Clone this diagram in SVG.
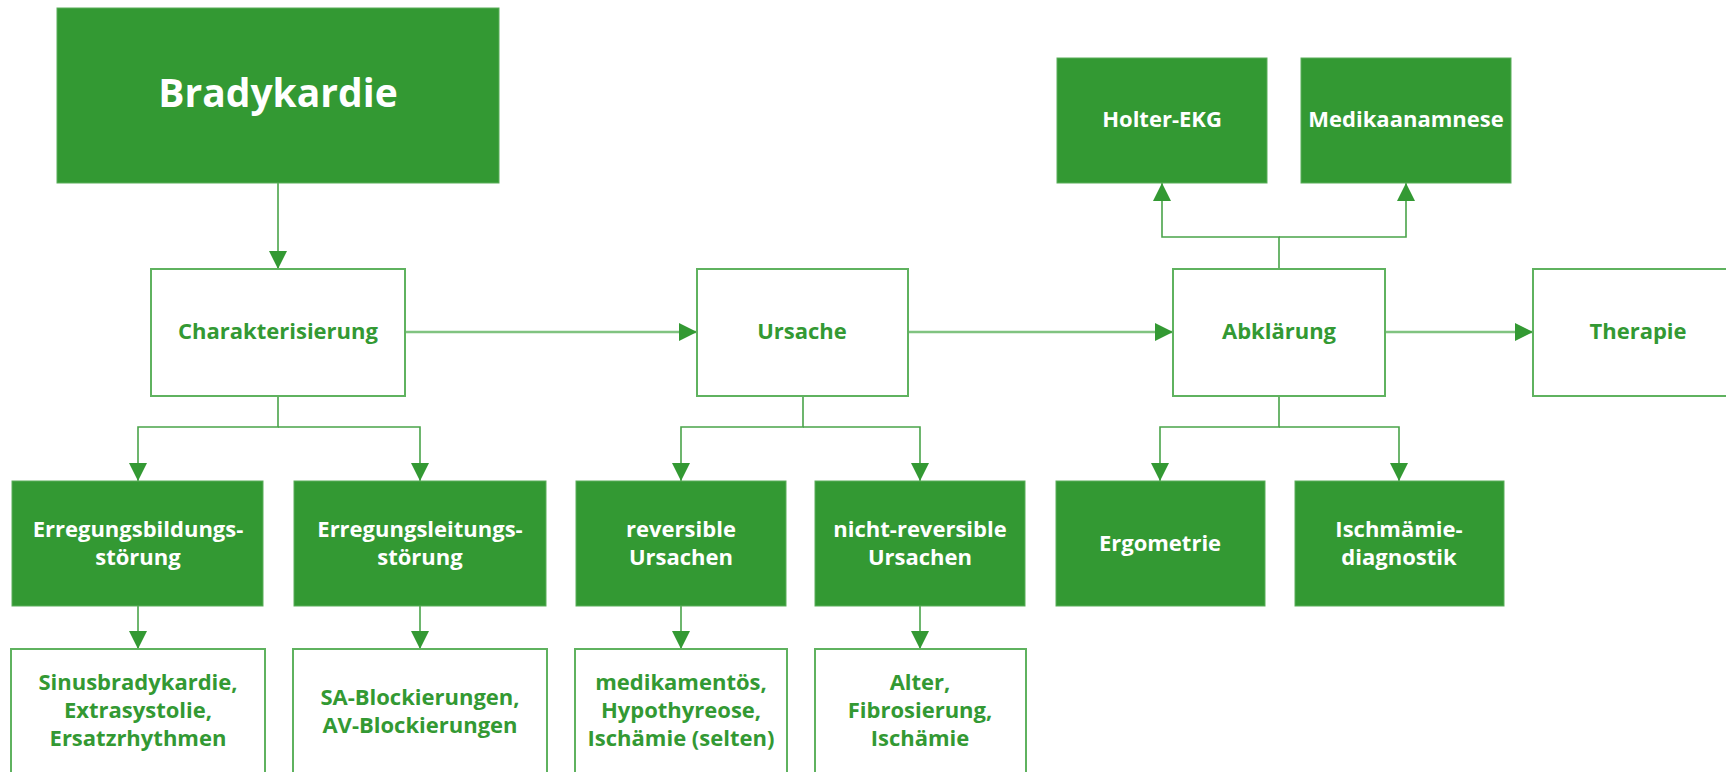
<svg xmlns="http://www.w3.org/2000/svg" width="1726" height="772" viewBox="0 0 1726 772">
  <style>
    .solid { fill: #339933; stroke: #5aae5a; stroke-width: 1; }
    .plain { fill: #ffffff; stroke: #5fb25f; stroke-width: 2; }
    text { font-family: "Open Sans", "Noto Sans", "Liberation Sans", sans-serif; font-weight: 700; text-anchor: middle; }
    .wt { fill: #ffffff; font-size: 22px; }
    .gt { fill: #339933; font-size: 22px; }
    .flow { fill: none; stroke: #80c380; stroke-width: 2.5; }
    .link { fill: none; stroke: #4aa44a; stroke-width: 1.6; }
  </style>
  <defs>
    <marker id="arrow" viewBox="0 0 18 18" refX="18" refY="9" markerWidth="18" markerHeight="18" markerUnits="userSpaceOnUse" orient="auto">
      <path d="M0,0 L18,9 L0,18 z" fill="#339933"/>
    </marker>
  </defs>

  <rect width="1726" height="772" fill="#ffffff"/>

  <!-- connectors -->
  <g id="connectors">
    <!-- main flow -->
    <path class="flow" d="M405,332 H697" marker-end="url(#arrow)"/>
    <path class="flow" d="M908,332 H1173" marker-end="url(#arrow)"/>
    <path class="flow" d="M1385,332 H1533" marker-end="url(#arrow)"/>
    <!-- Bradykardie to Charakterisierung -->
    <path class="link" d="M278,183 V269" marker-end="url(#arrow)"/>
    <!-- Charakterisierung branches -->
    <path class="link" d="M278,396 V427 H138 V481" marker-end="url(#arrow)"/>
    <path class="link" d="M278,427 H420 V481" marker-end="url(#arrow)"/>
    <!-- Ursache branches -->
    <path class="link" d="M803,396 V427 H681 V481" marker-end="url(#arrow)"/>
    <path class="link" d="M803,427 H920 V481" marker-end="url(#arrow)"/>
    <!-- Abklärung branches down -->
    <path class="link" d="M1279,396 V427 H1160 V481" marker-end="url(#arrow)"/>
    <path class="link" d="M1279,427 H1399 V481" marker-end="url(#arrow)"/>
    <!-- Abklärung branches up -->
    <path class="link" d="M1279,269 V237 H1162 V183" marker-end="url(#arrow)"/>
    <path class="link" d="M1279,237 H1406 V183" marker-end="url(#arrow)"/>
    <!-- detail arrows -->
    <path class="link" d="M138,606 V649" marker-end="url(#arrow)"/>
    <path class="link" d="M420,606 V649" marker-end="url(#arrow)"/>
    <path class="link" d="M681,606 V649" marker-end="url(#arrow)"/>
    <path class="link" d="M920,606 V649" marker-end="url(#arrow)"/>
  </g>

  <!-- top node -->
  <g id="bradykardie">
    <rect class="solid" x="57" y="8" width="442" height="175"/>
    <text x="278" y="107" fill="#ffffff" style="font-size:39px">Bradykardie</text>
  </g>

  <!-- main flow nodes -->
  <g id="charakterisierung">
    <rect class="plain" x="151" y="269" width="254" height="127"/>
    <text class="gt" x="278" y="339">Charakterisierung</text>
  </g>
  <g id="ursache">
    <rect class="plain" x="697" y="269" width="211" height="127"/>
    <text class="gt" x="802" y="339">Ursache</text>
  </g>
  <g id="abklaerung">
    <rect class="plain" x="1173" y="269" width="212" height="127"/>
    <text class="gt" x="1279" y="339">Abklärung</text>
  </g>
  <g id="therapie">
    <rect class="plain" x="1533" y="269" width="211" height="127"/>
    <text class="gt" x="1638" y="339">Therapie</text>
  </g>

  <!-- diagnostics above -->
  <g id="holter-ekg">
    <rect class="solid" x="1057" y="58" width="210" height="125"/>
    <text class="wt" x="1162" y="127">Holter-EKG</text>
  </g>
  <g id="medikaanamnese">
    <rect class="solid" x="1301" y="58" width="210" height="125"/>
    <text class="wt" x="1406" y="127">Medikaanamnese</text>
  </g>

  <!-- second row -->
  <g id="erregungsbildungsstoerung">
    <rect class="solid" x="12" y="481" width="251" height="125"/>
    <text class="wt" x="138" y="537">Erregungsbildungs-</text>
    <text class="wt" x="138" y="565">störung</text>
  </g>
  <g id="erregungsleitungsstoerung">
    <rect class="solid" x="294" y="481" width="252" height="125"/>
    <text class="wt" x="420" y="537">Erregungsleitungs-</text>
    <text class="wt" x="420" y="565">störung</text>
  </g>
  <g id="reversible-ursachen">
    <rect class="solid" x="576" y="481" width="210" height="125"/>
    <text class="wt" x="681" y="537">reversible</text>
    <text class="wt" x="681" y="565">Ursachen</text>
  </g>
  <g id="nicht-reversible-ursachen">
    <rect class="solid" x="815" y="481" width="210" height="125"/>
    <text class="wt" x="920" y="537">nicht-reversible</text>
    <text class="wt" x="920" y="565">Ursachen</text>
  </g>
  <g id="ergometrie">
    <rect class="solid" x="1056" y="481" width="209" height="125"/>
    <text class="wt" x="1160" y="551">Ergometrie</text>
  </g>
  <g id="ischaemiediagnostik">
    <rect class="solid" x="1295" y="481" width="209" height="125"/>
    <text class="wt" x="1399" y="537">Ischmämie-</text>
    <text class="wt" x="1399" y="565">diagnostik</text>
  </g>

  <!-- detail row -->
  <g id="details-erregungsbildung">
    <rect class="plain" x="11" y="649" width="254" height="126"/>
    <text class="gt" x="138" y="690">Sinusbradykardie,</text>
    <text class="gt" x="138" y="718">Extrasystolie,</text>
    <text class="gt" x="138" y="746">Ersatzrhythmen</text>
  </g>
  <g id="details-erregungsleitung">
    <rect class="plain" x="293" y="649" width="254" height="126"/>
    <text class="gt" x="420" y="705">SA-Blockierungen,</text>
    <text class="gt" x="420" y="733">AV-Blockierungen</text>
  </g>
  <g id="details-reversibel">
    <rect class="plain" x="575" y="649" width="212" height="126"/>
    <text class="gt" x="681" y="690">medikamentös,</text>
    <text class="gt" x="681" y="718">Hypothyreose,</text>
    <text class="gt" x="681" y="746">Ischämie (selten)</text>
  </g>
  <g id="details-nicht-reversibel">
    <rect class="plain" x="815" y="649" width="211" height="126"/>
    <text class="gt" x="920" y="690">Alter,</text>
    <text class="gt" x="920" y="718">Fibrosierung,</text>
    <text class="gt" x="920" y="746">Ischämie</text>
  </g>
</svg>
